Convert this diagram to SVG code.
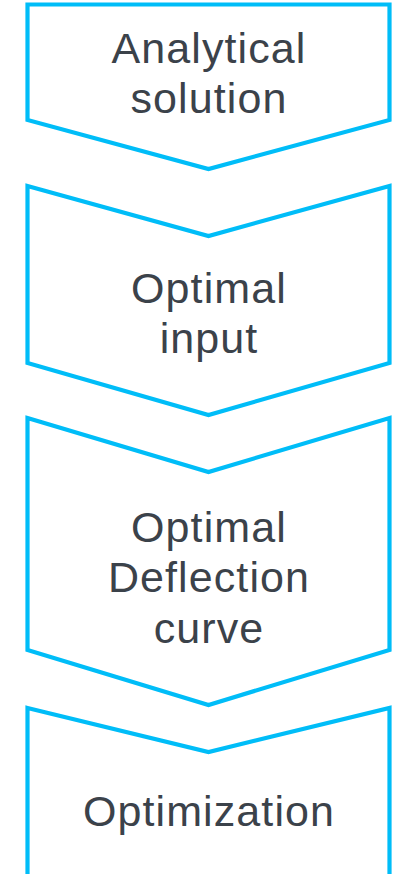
<svg xmlns="http://www.w3.org/2000/svg" width="395" height="874" viewBox="0 0 395 874">
<style>
.box{fill:#ffffff;stroke:#00bdf8;stroke-width:4.2;stroke-linejoin:miter}
.t{font-family:"Liberation Sans",Arial,sans-serif;font-size:43px;fill:#3b424a;text-anchor:middle;letter-spacing:1.1px}
</style>
<rect width="395" height="874" fill="#ffffff"/>
<g id="node1">
<polygon class="box" points="27.5,4.5 389.5,4.5 389.5,120 208.5,169 27.5,120"/>
<text class="t" x="209" y="62.5">Analytical</text>
<text class="t" x="209" y="112.5">solution</text>
</g>
<g id="node2">
<polygon class="box" points="27.5,186 208.5,236 389.5,186 389.5,363 208.5,415 27.5,363"/>
<text class="t" x="209" y="302.5">Optimal</text>
<text class="t" x="209" y="352.5">input</text>
</g>
<g id="node3">
<polygon class="box" points="27.5,418 208.5,472 389.5,418 389.5,650 208.5,705 27.5,650"/>
<text class="t" x="209" y="541.5">Optimal</text>
<text class="t" x="209" y="591.5">Deflection</text>
<text class="t" x="209" y="642.5">curve</text>
</g>
<g id="node4">
<polygon class="box" points="27.5,708 208.5,752 389.5,708 389.5,890 27.5,890"/>
<text class="t" x="209" y="826">Optimization</text>
</g>
<g id="connectors"></g>
</svg>
